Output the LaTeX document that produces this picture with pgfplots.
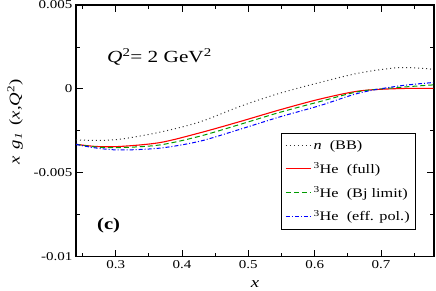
\documentclass[border=0pt]{standalone}
\usepackage{fontspec}
\setmainfont{Liberation Serif}[FakeStretch=1.25]
\usepackage{pgfplots}
\pgfplotsset{compat=1.18}
\definecolor{myred}{RGB}{255,0,0}
\definecolor{mygreen}{RGB}{0,155,0}
\definecolor{myblue}{RGB}{0,0,255}
\begin{document}
\begin{tikzpicture}
\begin{axis}[
  scale only axis, width=358bp, height=251.7bp,
  xmin=0.24, xmax=0.78, ymin=-0.01, ymax=0.005,
  xtick={0.3,0.4,0.5,0.6,0.7}, xticklabels={0.3,0.4,0.5,0.6,0.7},
  minor xtick={0.25,0.35,0.45,0.55,0.65,0.75},
  ytick={-0.01,-0.005,0,0.005}, yticklabels={-0.01,-0.005,0,0.005},
  minor ytick={-0.0075,-0.0025,0.0025},
  scaled y ticks=false, scaled x ticks=false,
  tick align=inside, major tick length=7bp, minor tick length=4bp,
  every tick/.style={black, line width=0.9bp},
  axis line style={line width=1.2bp},
  tick label style={font=\fontsize{12bp}{14bp}\selectfont},
  xlabel={\textit{x}},
  xlabel style={at={(rel axis cs:0.5,-0.1085)}, anchor=center, font=\fontsize{15bp}{17bp}\selectfont},
  ylabel={\textit{x\, g}\textsubscript{\textit{1}}\, (\textit{x},\textit{Q}\textsuperscript{2})},
  ylabel style={at={(rel axis cs:-0.17,0.535)}, anchor=center, font=\fontsize{15bp}{17bp}\selectfont},
  legend cell align=left,
  legend image code/.code={\draw[#1] (0bp,0bp) -- (25bp,0bp);},
  legend style={at={(rel axis cs:0.5726,0.4915)}, anchor=north west,
    draw=black, line width=0.9bp, font=\fontsize{13bp}{15bp}\selectfont,
    inner xsep=4bp, inner ysep=5bp, row sep=8bp},
]
\coordinate (bl) at (rel axis cs:0,0);
\coordinate (tr) at (rel axis cs:1,1);
\addplot[black!80, line width=1bp, dash pattern=on 1bp off 3bp, smooth] coordinates {
(0.24,-0.00304) (0.270,-0.00307) (0.3063,-0.00300) (0.3665,-0.00258) (0.4267,-0.00197)
(0.487,-0.00105) (0.5472,-0.00026) (0.6075,0.00038) (0.6677,0.00095) (0.728,0.00127) (0.779,0.00117)};
\addlegendentry{\textit{n}\ \ (BB)}
\addplot[myred, line width=1.1bp, smooth] coordinates {
(0.24,-0.00330) (0.270,-0.00343) (0.3063,-0.00343) (0.3665,-0.00320) (0.4267,-0.00262)
(0.487,-0.00195) (0.5472,-0.00125) (0.6075,-0.00061) (0.6677,-0.00012) (0.728,0.00002) (0.779,0.00003)};
\addlegendentry{\textsuperscript{3}He\ \ (full)}
\addplot[mygreen, line width=1bp, dash pattern=on 5bp off 3bp, smooth] coordinates {
(0.24,-0.00330) (0.270,-0.00346) (0.3063,-0.00350) (0.3665,-0.00334) (0.4267,-0.00282)
(0.487,-0.00212) (0.5472,-0.00140) (0.6075,-0.00076) (0.6677,-0.00015) (0.728,0.00009) (0.779,0.00024)};
\addlegendentry{\textsuperscript{3}He\ \ (Bj limit)}
\addplot[myblue, line width=1bp, dash pattern=on 4bp off 2bp on 1bp off 2bp, smooth] coordinates {
(0.24,-0.00331) (0.270,-0.00352) (0.3063,-0.00364) (0.3665,-0.00353) (0.4267,-0.00312)
(0.487,-0.00241) (0.5472,-0.00167) (0.6075,-0.00100) (0.6677,-0.00024) (0.728,0.00018) (0.779,0.00038)};
\addlegendentry{\textsuperscript{3}He\ \ (eff. pol.)}
\node[anchor=base west, inner sep=0pt, font=\fontsize{17bp}{20bp}\selectfont] at (axis cs:0.2867,0.00155) {\textit{Q}\textsuperscript{2}= 2 GeV\textsuperscript{2}};
\node[anchor=base west, inner sep=0pt, font=\fontsize{16.5bp}{19bp}\selectfont\bfseries] at (axis cs:0.2716,-0.0084) {(c)};
\end{axis}
\pgfresetboundingbox
\path ([shift={(-76bp,-33.3bp)}]bl) rectangle ([shift={(2bp,5bp)}]tr);
\end{tikzpicture}
\end{document}
